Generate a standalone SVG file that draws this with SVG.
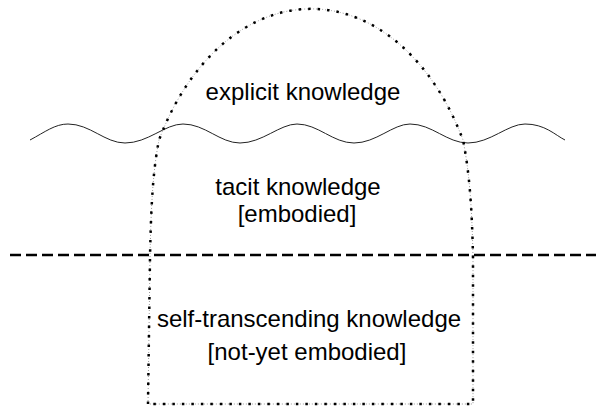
<svg xmlns="http://www.w3.org/2000/svg" width="600" height="412" viewBox="0 0 600 412">
<style>
  .lbl { font-family: "Liberation Sans", Arial, sans-serif; font-size: 24px; fill: #000; text-anchor: middle; }
  .domeA { fill: none; stroke: #999; stroke-width: 1; stroke-dasharray: 1 2; }
  .domeB { fill: none; stroke: #000; stroke-width: 2.5; stroke-dasharray: 2.5 7; }
</style>
<rect width="600" height="412" fill="#fff"/>
<g id="wave">
  <path d="M30,140 C45,132 55,124 68,124 C90,124 105,143 125,143 C148,143 165,124 183,124 C205,124 220,143 240,143 C262,143 280,124 297,124 C318,124 333,143 354,143 C376,143 393,124 410,124 C432,124 447,143 468,143 C490,143 508,124 525,124 C545,124 555,135 565,140" fill="none" stroke="#222" stroke-width="1"/>
</g>
<g id="divider">
  <line x1="10" y1="255" x2="596" y2="255" stroke="#000" stroke-width="2.5" stroke-dasharray="11 5"/>
</g>
<g id="dome">
  <path class="domeA" d="M148,404 L150,258 C151,205 153,170 159,140 A173,251 0 0 1 463,140 C469,170 472,205 473,258 L473,404 Z"/>
  <path class="domeB" d="M148,404 L150,258 C151,205 153,170 159,140 A173,251 0 0 1 463,140 C469,170 472,205 473,258 L473,404 Z"/>
</g>
<g id="explicit">
  <text class="lbl" x="303" y="100">explicit knowledge</text>
</g>
<g id="tacit">
  <text class="lbl" x="298" y="195">tacit knowledge</text>
  <text class="lbl" x="297" y="222">[embodied]</text>
</g>
<g id="self-transcending">
  <text class="lbl" x="309" y="327">self-transcending knowledge</text>
  <text class="lbl" x="307" y="360">[not-yet embodied]</text>
</g>
</svg>
